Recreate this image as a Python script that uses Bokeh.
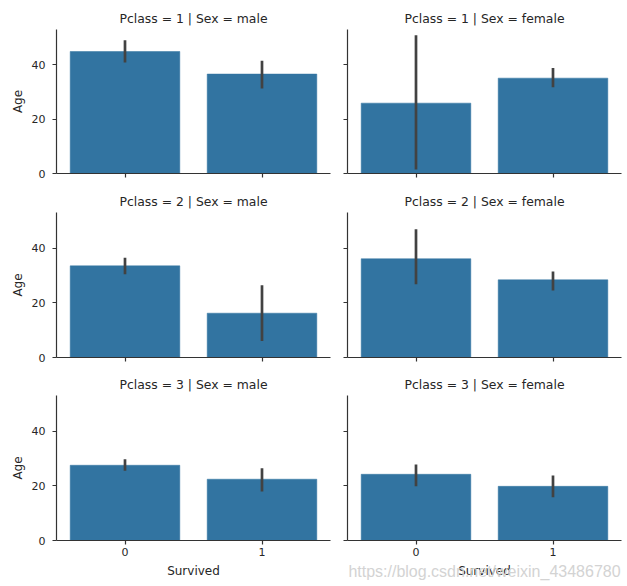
from bokeh.plotting import figure
from bokeh.models import Range1d, FixedTicker, LinearAxis
from bokeh.layouts import column, row
from bokeh.embed import file_html
from bokeh.resources import INLINE

# ---- data ----
survived = [0, 1]
survived_labels = {0: "0", 1: "1"}
age_ticks = [0, 20, 40]

p1_male_age = [44.9, 36.6]
p1_male_lo = [40.9, 31.3]
p1_male_hi = [49.0, 41.5]

p1_female_age = [25.9, 35.1]
p1_female_lo = [1.5, 31.7]
p1_female_hi = [50.9, 38.8]

p2_male_age = [33.5, 16.2]
p2_male_lo = [30.4, 6.0]
p2_male_hi = [36.5, 26.4]

p2_female_age = [36.1, 28.4]
p2_female_lo = [26.8, 24.5]
p2_female_hi = [46.9, 31.4]

p3_male_age = [27.5, 22.4]
p3_male_lo = [25.5, 17.9]
p3_male_hi = [29.7, 26.4]

p3_female_age = [24.2, 19.8]
p3_female_lo = [19.8, 15.8]
p3_female_hi = [27.8, 23.8]

watermark = "https://blog.csdn.net/weixin_43486780"

BAR = "#3274a1"
ERR = "#424242"
TXT = "#262626"
AX = "#333333"
FONT = "DejaVu Sans"


def panel(title, means, lo, hi, left, bottom, top_b, frame_h, bot_b):
    p = figure(
        frame_width=274, frame_height=frame_h,
        x_range=Range1d(-0.5, 1.5), y_range=Range1d(0, 53),
        output_backend="svg", toolbar_location=None,
        min_border_left=56 if left else 11,
        min_border_right=6 if left else 4,
        min_border_top=top_b, min_border_bottom=bot_b,
        title=title,
    )
    p.vbar(x=survived, top=means, bottom=0, width=0.8,
           fill_color=BAR, line_color=BAR, line_width=0.5)
    p.segment(x0=survived, y0=lo, x1=survived, y1=hi,
              line_color=ERR, line_width=2.7)

    p.title.align = "center"
    p.title.text_font = FONT
    p.title.text_font_style = "normal"
    p.title.text_font_size = "12.4px"
    p.title.text_color = TXT
    p.title.standoff = 7
    p.title.offset = 0

    p.xgrid.visible = False
    p.ygrid.visible = False
    p.outline_line_color = None
    p.background_fill_color = "white"
    p.border_fill_color = "white"

    p.xaxis.ticker = FixedTicker(ticks=survived)
    p.yaxis.ticker = FixedTicker(ticks=age_ticks)
    for ax in (p.xaxis, p.yaxis):
        ax.axis_line_color = AX
        ax.axis_line_width = 1.2
        ax.major_tick_line_color = AX
        ax.major_tick_line_width = 1.2
        ax.major_tick_in = 0
        ax.major_tick_out = 4
        ax.minor_tick_line_color = None
        ax.major_label_text_font = FONT
        ax.major_label_text_font_size = "11px"
        ax.major_label_text_color = TXT
        ax.axis_label_text_font = FONT
        ax.axis_label_text_font_size = "12px"
        ax.axis_label_text_font_style = "normal"
        ax.axis_label_text_color = TXT
    p.xaxis.major_label_standoff = 3
    p.xaxis.axis_label_standoff = 5
    p.yaxis.major_label_standoff = 7
    p.yaxis.axis_label_standoff = 4

    if bottom:
        p.xaxis.major_label_overrides = survived_labels
        p.xaxis.axis_label = "Survived"
    else:
        p.xaxis.major_label_overrides = {t: "" for t in survived}
    if left:
        p.yaxis.axis_label = "Age"
    else:
        p.yaxis.major_label_overrides = {t: "" for t in age_ticks}
    return p


a = panel("Pclass = 1 | Sex = male", p1_male_age, p1_male_lo, p1_male_hi, True, False, 29, 144, 13)
b = panel("Pclass = 1 | Sex = female", p1_female_age, p1_female_lo, p1_female_hi, False, False, 29, 144, 13)
c = panel("Pclass = 2 | Sex = male", p2_male_age, p2_male_lo, p2_male_hi, True, False, 26, 145, 13)
d = panel("Pclass = 2 | Sex = female", p2_female_age, p2_female_lo, p2_female_hi, False, False, 26, 145, 13)
e = panel("Pclass = 3 | Sex = male", p3_male_age, p3_male_lo, p3_male_hi, True, True, 25, 145, 38)
f = panel("Pclass = 3 | Sex = female", p3_female_age, p3_female_lo, p3_female_hi, False, True, 25, 145, 38)

# faint site watermark drawn as the label of an otherwise empty axis
wm = LinearAxis(ticker=FixedTicker(ticks=[]), axis_line_color=None,
                major_tick_line_color=None, minor_tick_line_color=None,
                major_label_text_font_size="0px",
                axis_label=watermark, axis_label_standoff=-18,
                axis_label_text_font="Liberation Sans",
                axis_label_text_font_size="16px",
                axis_label_text_font_style="normal",
                axis_label_text_color="#d3d3d3")
f.add_layout(wm, "below")

layout = column(row(a, b), row(c, d), row(e, f))

open("out.html", "w").write(file_html(layout, INLINE))
